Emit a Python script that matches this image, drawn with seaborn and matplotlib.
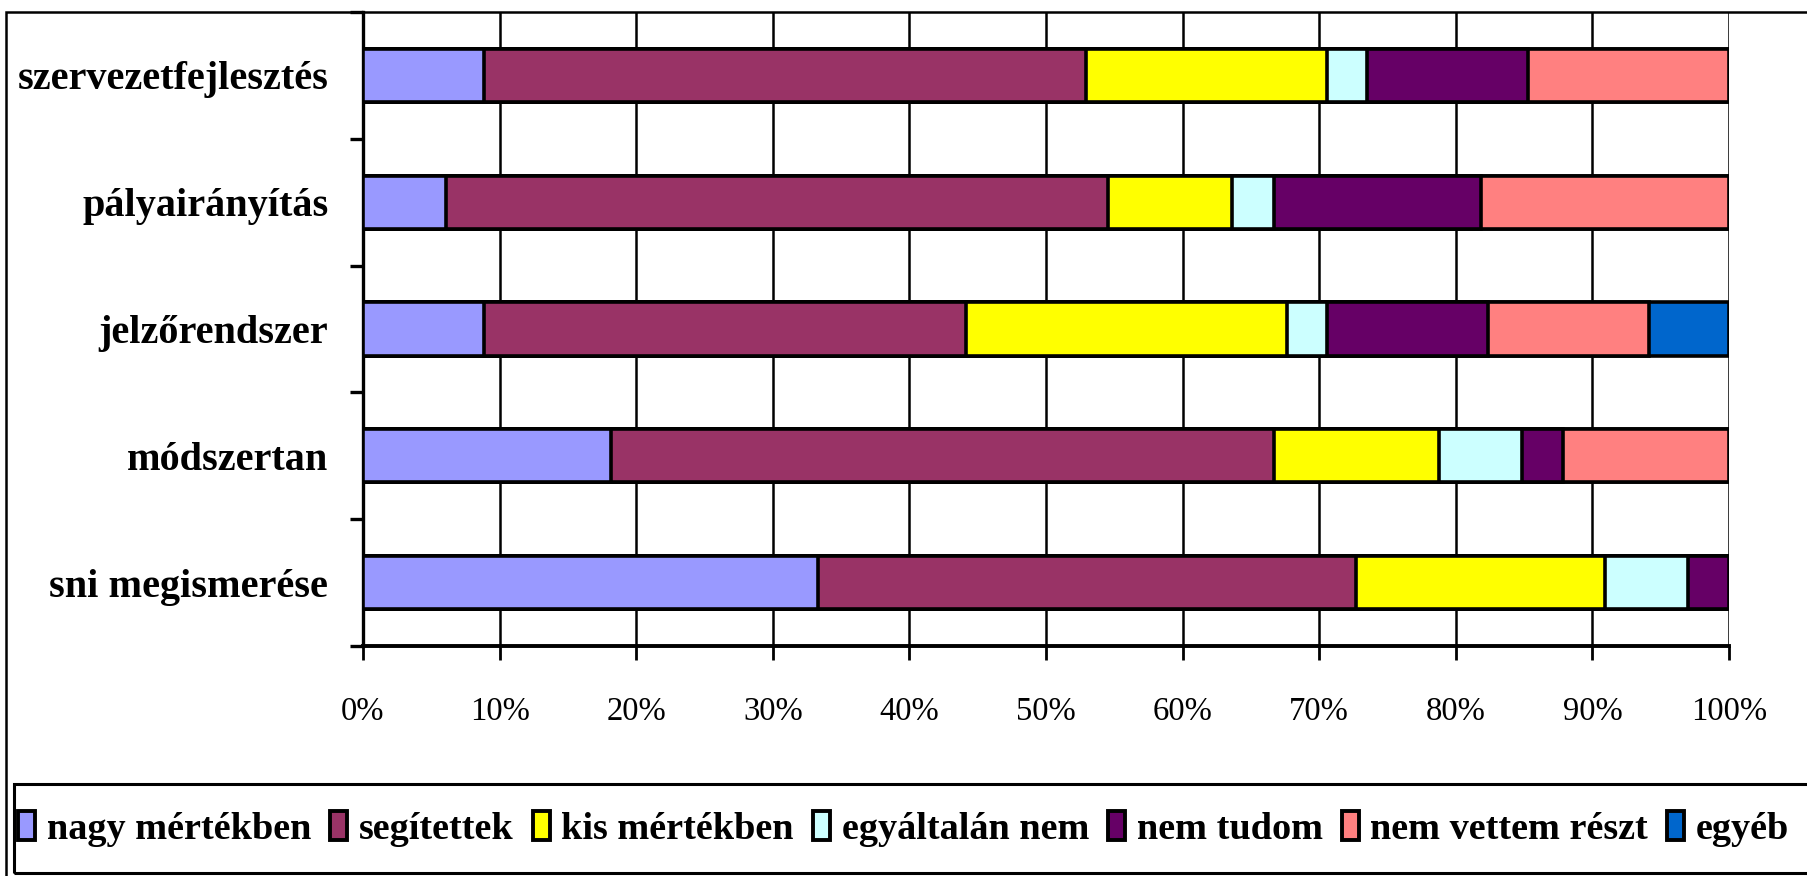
import matplotlib
matplotlib.use('Agg')
import matplotlib.pyplot as plt
from matplotlib.patches import Patch, Rectangle
import seaborn as sns
import pandas as pd
import numpy as np

categories = ['szervezetfejlesztés', 'pályairányítás', 'jelzőrendszer', 'módszertan', 'sni megismerése']
answers = ['nagy mértékben', 'segítettek', 'kis mértékben', 'egyáltalán nem',
           'nem tudom', 'nem vettem részt', 'egyéb']
colors = ['#9999FF', '#993366', '#FFFF00', '#CCFFFF', '#660066', '#FF8080', '#0066CC']

# answer counts per question (n = 33-34)
nagy = [3, 2, 3, 6, 11]
segitettek = [15, 16, 12, 16, 13]
kis = [6, 3, 8, 4, 6]
egyaltalan = [1, 1, 1, 2, 2]
nem_tudom = [4, 5, 4, 1, 1]
nem_vettem = [5, 6, 4, 4, 0]
egyeb = [0, 0, 2, 0, 0]
xticks = [0, 10, 20, 30, 40, 50, 60, 70, 80, 90, 100]
xtick_labels = ['0%', '10%', '20%', '30%', '40%', '50%', '60%', '70%', '80%', '90%', '100%']

df = pd.DataFrame(dict(zip(answers, [nagy, segitettek, kis, egyaltalan, nem_tudom, nem_vettem, egyeb])),
                  index=categories)
pct = df.div(df.sum(axis=1), axis=0) * 100
cum = pct.cumsum(axis=1)

sns.set_theme(style='white')
plt.rcParams['font.family'] = ['Liberation Serif', 'DejaVu Serif']
plt.rcParams['text.color'] = 'black'
plt.rcParams['xtick.labelcolor'] = 'black'
plt.rcParams['ytick.labelcolor'] = 'black'

W, H = 1808, 876
fig = plt.figure(figsize=(W / 100, H / 100), dpi=100)
ax = fig.add_axes([363 / W, 1 - 646 / H, (1729 - 363) / W, (646 - 12) / H])

# stacked bars: draw cumulative totals from the last answer backwards
for i in range(len(answers) - 1, -1, -1):
    sns.barplot(x=cum[answers[i]].values, y=categories, order=categories, orient='h',
                color=colors[i], saturation=1, width=0.42, edgecolor='black',
                linewidth=2.6, ax=ax, zorder=3)

ax.set_xlim(0, 100)
ax.set_ylim(4.5, -0.5)
ax.set_xlabel('')
ax.set_ylabel('')
ax.set_xticks(xticks)
ax.set_xticklabels(xtick_labels)
ax.xaxis.grid(True, color='black', linewidth=1.8)
ax.yaxis.grid(False)
ax.set_axisbelow(True)

for s in ['top', 'right']:
    ax.spines[s].set_visible(False)
ax.spines['left'].set_color('black')
ax.spines['left'].set_linewidth(2.4)
ax.spines['bottom'].set_color('black')
ax.spines['bottom'].set_linewidth(2.8)

ax.tick_params(axis='x', length=10, width=2, direction='out', color='black',
               labelcolor='black', pad=26, labelsize=23.5, bottom=True)
ax.tick_params(axis='y', which='major', length=0, pad=25, labelcolor='black')
ax.set_yticks(np.arange(-0.5, 5, 1), minor=True)
ax.tick_params(axis='y', which='minor', length=9.5, width=2.4, direction='out',
               color='black', left=True)
for lbl in ax.get_yticklabels():
    lbl.set_fontweight('bold')
    lbl.set_fontsize(29)
    lbl.set_color('black')

# outer chart frame and legend box
fig.add_artist(Rectangle((6 / W, -0.1), 1.2, 1.1 - 12 / H, transform=fig.transFigure,
                         fill=False, edgecolor='black', linewidth=1.8))
fig.add_artist(Rectangle((14 / W, 3 / H), 1.2, 89 / H, transform=fig.transFigure,
                         fill=False, edgecolor='black', linewidth=2.2))

handles = [Patch(facecolor=c, edgecolor='black', linewidth=2.8) for c in colors]
leg = fig.legend(handles, answers, loc='center left', bbox_to_anchor=(18 / W, (876 - 829) / H),
                 ncol=7, frameon=False, handlelength=0.45, handleheight=0.8, handletextpad=0.3,
                 columnspacing=0.5, borderaxespad=0, borderpad=0,
                 prop={'weight': 'bold', 'size': 27.5})
for t in leg.get_texts():
    t.set_color('black')

fig.savefig('out.png', dpi=100)
